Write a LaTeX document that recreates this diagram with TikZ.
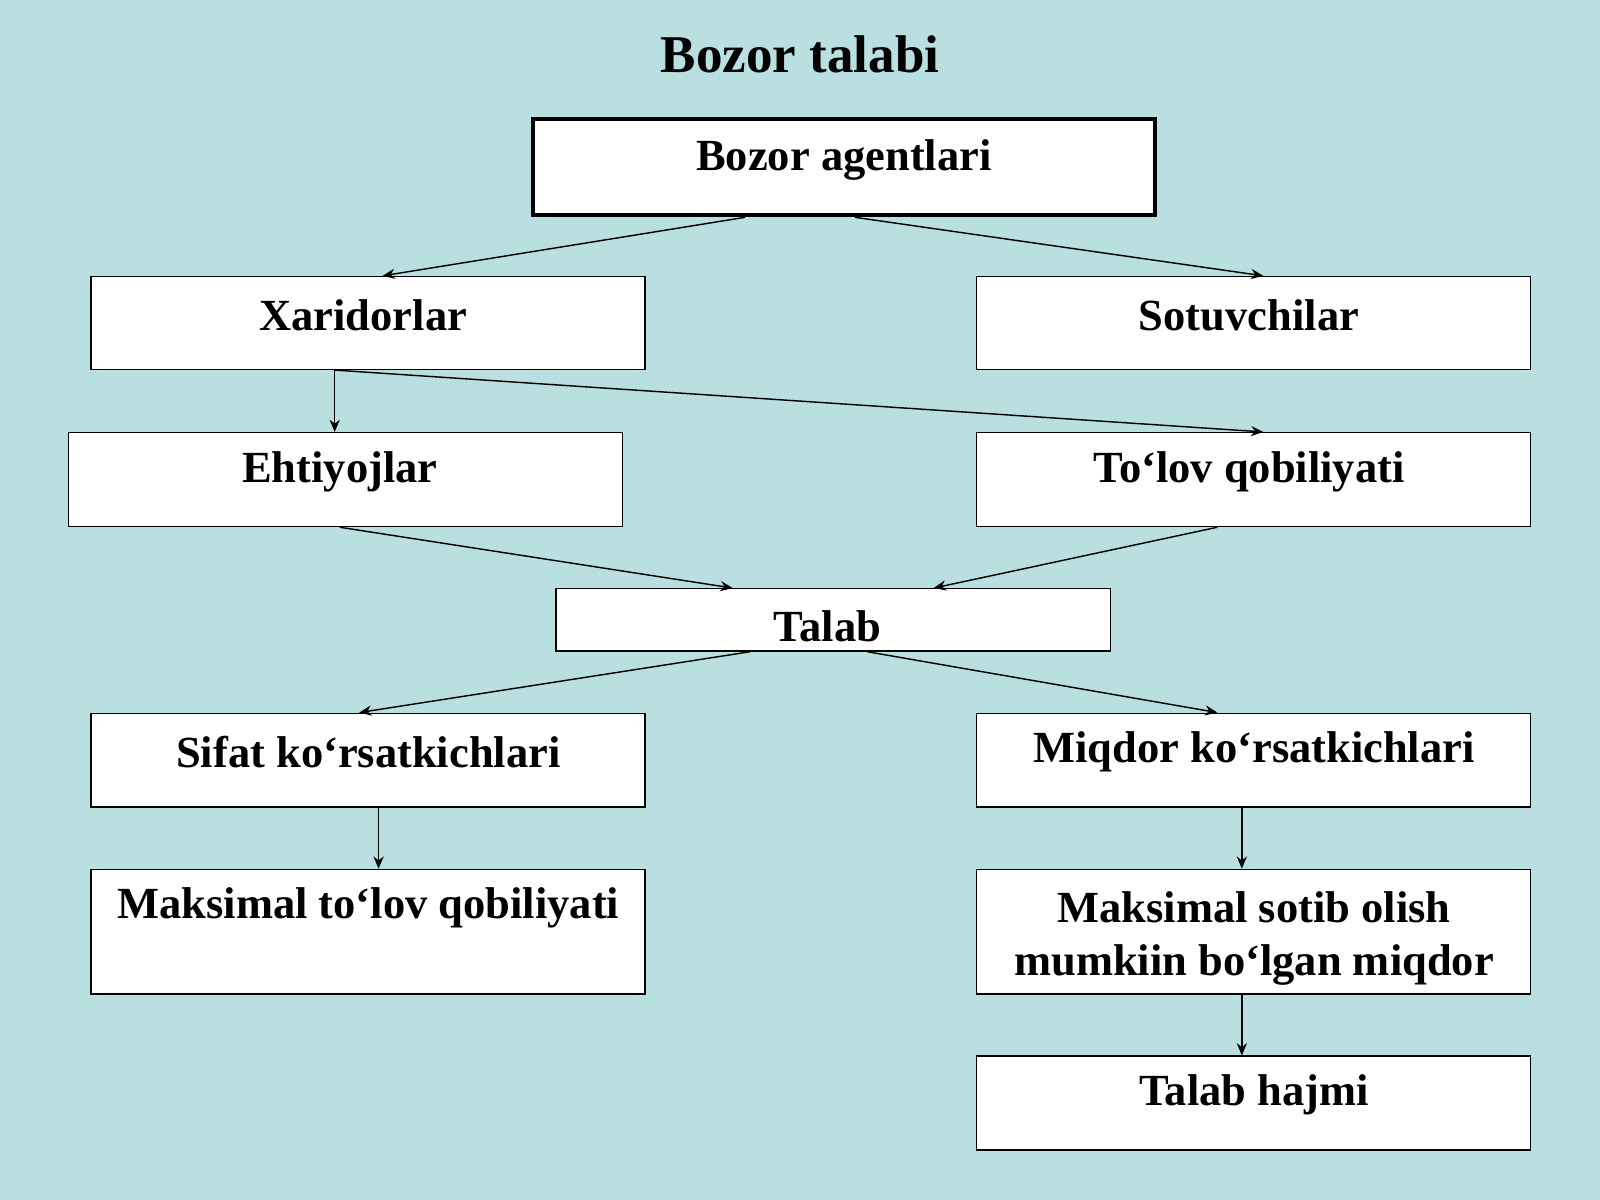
\documentclass[tikz,border=0pt]{standalone}
\usepackage{fontspec}
\setmainfont{Liberation Serif}
\usetikzlibrary{arrows.meta}
\definecolor{bg}{HTML}{BADFE0}
\begin{document}
\begin{tikzpicture}[x=0.5pt,y=-0.5pt,
  box/.style={draw,fill=white,line width=0.7pt,inner sep=0pt,minimum width=271.5pt,minimum height=#1},
  lbl/.style={font=\bfseries\fontsize{21.8}{25}\selectfont,align=center,inner sep=0pt},
  arr/.style={-{Stealth[length=6pt,width=5pt]},line width=0.7pt}]
\fill[bg] (0,0) rectangle (1568,1176);
\useasboundingbox (0,0) rectangle (1568,1176);
\node[lbl,font=\bfseries\fontsize{26}{30}\selectfont] (title) at (784,53) {Bozor talabi};
\node[box=47pt,minimum width=305pt,line width=2pt] (ag) at (827,164) {};
\node[box=45.5pt] (xa) at (360.5,316.5) {};
\node[box=45.5pt] (so) at (1228.5,316.5) {};
\node[box=46pt] (eh) at (338.5,470) {};
\node[box=46pt] (to) at (1228.5,470) {};
\node[box=30.5pt] (ta) at (816.5,607.5) {};
\node[box=46pt] (si) at (360.5,745) {};
\node[box=46pt] (mi) at (1228.5,745) {};
\node[box=61pt] (mt) at (360.5,913) {};
\node[box=61pt] (ms) at (1228.5,913) {};
\node[box=46pt] (th) at (1228.5,1081) {};
\node[lbl] (tag) at (827,157) {Bozor agentlari};
\node[lbl] (txa) at (356,309) {Xaridorlar};
\node[lbl] (tso) at (1224,309) {Sotuvchilar};
\node[lbl] (teh) at (333,462) {Ehtiyojlar};
\node[lbl] (tto) at (1224,462) {To‘lov qobiliyati};
\node[lbl] (tta) at (811,614) {Talab};
\node[lbl] (tsi) at (361,737) {Sifat ko‘rsatkichlari};
\node[lbl] (tmi) at (1229,737) {Miqdor ko‘rsatkichlari};
\node[lbl] (tmt) at (361,890) {Maksimal to‘lov qobiliyati};
\node[lbl,text depth=0pt] (tms) at (1229,915) {Maksimal sotib olish\\[1pt]mumkiin bo‘lgan miqdor};
\node[lbl] (tth) at (1229,1073) {Talab hajmi};
\draw[arr] ([xshift=-48.5pt]ag.south) -- ([xshift=7.25pt]xa.north);
\draw[arr] ([xshift=5.5pt]ag.south) -- ([xshift=4.75pt]so.north);
\draw[arr] ([xshift=-16.25pt]xa.south) -- ([xshift=-5.25pt]eh.north);
\draw[arr] ([xshift=-16.25pt]xa.south) -- ([xshift=4.75pt]to.north);
\draw[arr] ([xshift=-2.75pt]eh.south) -- ([xshift=-49.25pt]ta.north);
\draw[arr] ([xshift=-17.75pt]to.south) -- ([xshift=49.25pt]ta.north);
\draw[arr] ([xshift=-40.75pt]ta.south) -- ([xshift=-4.25pt]si.north);
\draw[arr] ([xshift=16.75pt]ta.south) -- ([xshift=-17.75pt]mi.north);
\draw[arr] ([xshift=5.25pt]si.south) -- ([xshift=5.25pt]mt.north);
\draw[arr] ([xshift=-5.75pt]mi.south) -- ([xshift=-5.75pt]ms.north);
\draw[arr] ([xshift=-5.75pt]ms.south) -- ([xshift=-5.75pt]th.north);
\end{tikzpicture}
\end{document}
